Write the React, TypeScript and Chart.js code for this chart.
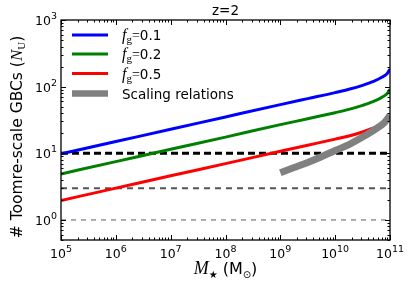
import React, { useEffect, useRef } from "react";
import { Chart, registerables } from "chart.js";

Chart.register(...registerables);

// ---- data ----
const stellarMass = [1e5, 1e6, 1e7, 1e8, 1e9, 3.16e9, 1e10, 1.78e10, 3.16e10, 5.01e10, 7.08e10, 8.91e10, 1e11];
const fg01 = [9.8, 15.0, 22.9, 35.1, 53.7, 66.1, 81.3, 91.2, 104.7, 120, 138, 158, 184];
const fg02 = [4.9, 7.5, 11.5, 17.5, 26.9, 33, 40.7, 45.6, 52.4, 60, 69, 79, 91];
const fg05 = [1.96, 3.0, 4.6, 7.0, 10.7, 13.2, 16.3, 18.2, 20.9, 24, 27.6, 31.7, 36.8];
const scalingMass = [1e9, 1.78e9, 3.16e9, 5.62e9, 1e10, 1.78e10, 3.16e10, 5.62e10, 7.94e10, 1e11];
const scalingValues = [5.1, 6.1, 7.3, 8.9, 11, 13.5, 17.5, 23.5, 29, 37];
const thresholdMass = [1e5, 1e11];
const thresholds = [10, 3, 1];
const gasFractions = ["0.1", "0.2", "0.5"];
const scalingLabel = "Scaling relations";
const xTickExponents = [5, 6, 7, 8, 9, 10, 11];
const yTickExponents = [0, 1, 2, 3];
const titleText = "z=2";

// ---- styles ----
const SANS = '"DejaVu Sans"';
const SERIF = '"Liberation Serif"';
const lineColors = ["#0000ff", "#008000", "#ff0000"];
const scalingColor = "#808080";
const thresholdStyles = [
  { color: "#000000", width: 3, dash: [7, 4] },
  { color: "#555555", width: 2, dash: [6, 5] },
  { color: "#777777", width: 1.2, dash: [5, 5] },
];

type Seg = { t: string; f: string; dy?: number };

function segsWidth(ctx: CanvasRenderingContext2D, segs: Seg[]) {
  let w = 0;
  for (const s of segs) {
    ctx.font = s.f;
    w += ctx.measureText(s.t).width;
  }
  return w;
}

function drawSegs(ctx: CanvasRenderingContext2D, segs: Seg[], x: number, y: number) {
  let cx = x;
  for (const s of segs) {
    ctx.font = s.f;
    ctx.fillText(s.t, cx, y + (s.dy || 0));
    cx += ctx.measureText(s.t).width;
  }
}

function powerSegs(exp: number): Seg[] {
  return [
    { t: "10", f: `12.5px ${SANS}` },
    { t: String(exp), f: `9.5px ${SANS}`, dy: -6 },
  ];
}

const decorPlugin = {
  id: "decor",
  afterDatasetsDraw(chart: any) {
    const ctx: CanvasRenderingContext2D = chart.ctx;
    const { left, right, top, bottom } = chart.chartArea;
    const xs = chart.scales.x;
    const ys = chart.scales.y;
    ctx.save();
    ctx.strokeStyle = "#000";
    ctx.lineWidth = 1;
    const major = 5;
    const minor = 2.5;
    const xMin = xTickExponents[0];
    const xMax = xTickExponents[xTickExponents.length - 1];
    for (let d = xMin; d <= xMax; d++) {
      for (let k = 1; k <= 9; k++) {
        const v = k * Math.pow(10, d);
        if (v < xs.min * 0.999 || v > xs.max * 1.001) continue;
        const px = Math.round(xs.getPixelForValue(v)) + 0.5;
        const len = k === 1 ? major : minor;
        ctx.beginPath();
        ctx.moveTo(px, bottom);
        ctx.lineTo(px, bottom - len);
        ctx.moveTo(px, top);
        ctx.lineTo(px, top + len);
        ctx.stroke();
      }
    }
    for (let d = yTickExponents[0] - 1; d <= yTickExponents[yTickExponents.length - 1]; d++) {
      for (let k = 1; k <= 9; k++) {
        const v = k * Math.pow(10, d);
        if (v < ys.min * 0.999 || v > ys.max * 1.001) continue;
        const py = Math.round(ys.getPixelForValue(v)) + 0.5;
        const len = k === 1 ? major : minor;
        ctx.beginPath();
        ctx.moveTo(left, py);
        ctx.lineTo(left + len, py);
        ctx.moveTo(right, py);
        ctx.lineTo(right - len, py);
        ctx.stroke();
      }
    }
    ctx.lineWidth = 1.3;
    ctx.strokeRect(left, top, right - left, bottom - top);
    ctx.restore();
  },
  afterDraw(chart: any) {
    const ctx: CanvasRenderingContext2D = chart.ctx;
    const { left, right, top, bottom } = chart.chartArea;
    const xs = chart.scales.x;
    const ys = chart.scales.y;
    ctx.save();
    ctx.fillStyle = "#000";
    ctx.textAlign = "left";
    ctx.textBaseline = "alphabetic";

    for (const e of xTickExponents) {
      const segs = powerSegs(e);
      const w = segsWidth(ctx, segs);
      const px = xs.getPixelForValue(Math.pow(10, e));
      drawSegs(ctx, segs, px - w / 2, bottom + 18);
    }
    for (const e of yTickExponents) {
      const segs = powerSegs(e);
      const w = segsWidth(ctx, segs);
      const py = ys.getPixelForValue(Math.pow(10, e));
      drawSegs(ctx, segs, left - 4 - w, py + 5);
    }

    ctx.font = `13.5px ${SANS}`;
    const tw = ctx.measureText(titleText).width;
    ctx.fillText(titleText, (left + right) / 2 - tw / 2, 15);

    const xt: Seg[] = [
      { t: "M", f: `italic 18px ${SERIF}` },
      { t: "\u2605", f: `10px ${SANS}`, dy: 3.5 },
      { t: " (M", f: `16px ${SANS}` },
      { t: "\u2299", f: `10px ${SANS}`, dy: 4 },
      { t: ")", f: `16px ${SANS}` },
    ];
    const xw = segsWidth(ctx, xt);
    drawSegs(ctx, xt, (left + right) / 2 - xw / 2, 274);

    const yt: Seg[] = [
      { t: "# Toomre-scale GBCs (", f: `15.5px ${SANS}` },
      { t: "N", f: `italic 17px ${SERIF}` },
      { t: "U", f: `11px ${SERIF}`, dy: 3 },
      { t: ")", f: `15.5px ${SANS}` },
    ];
    const yw = segsWidth(ctx, yt);
    ctx.save();
    ctx.translate(16, (top + bottom) / 2 + 7);
    ctx.rotate(-Math.PI / 2);
    drawSegs(ctx, yt, -yw / 2, 5.5);
    ctx.restore();

    const lx0 = left + 11;
    const lx1 = left + 47;
    const tx = left + 61;
    const rowY = [35, 54, 73.5, 93.5];
    gasFractions.forEach((g, i) => {
      const y = rowY[i];
      ctx.strokeStyle = lineColors[i];
      ctx.lineWidth = 3;
      ctx.beginPath();
      ctx.moveTo(lx0, y);
      ctx.lineTo(lx1, y);
      ctx.stroke();
      const segs: Seg[] = [
        { t: "f", f: `italic 16px ${SERIF}` },
        { t: "g", f: `11px ${SERIF}`, dy: 3 },
        { t: "=", f: `14px ${SERIF}` },
        { t: g, f: `13.5px ${SANS}` },
      ];
      drawSegs(ctx, segs, tx, y + 5);
    });
    {
      const y = rowY[3];
      ctx.strokeStyle = scalingColor;
      ctx.lineWidth = 6.5;
      ctx.beginPath();
      ctx.moveTo(lx0, y);
      ctx.lineTo(lx1, y);
      ctx.stroke();
      ctx.font = `13.5px ${SANS}`;
      ctx.fillText(scalingLabel, tx, y + 5);
    }
    ctx.restore();
  },
};

export default function App() {
  const ref = useRef<HTMLCanvasElement | null>(null);
  useEffect(() => {
    if (!ref.current) return;
    const toXY = (xsArr: number[], ysArr: number[]) => xsArr.map((x, i) => ({ x, y: ysArr[i] }));
    const mainSeries = [fg01, fg02, fg05];
    const datasets: any[] = [];
    datasets.push({
      label: scalingLabel,
      data: toXY(scalingMass, scalingValues),
      borderColor: scalingColor,
      borderWidth: 7,
      pointRadius: 0,
      cubicInterpolationMode: "monotone",
      borderCapStyle: "butt",
      order: 0,
    });
    mainSeries.forEach((s, i) => {
      datasets.push({
        label: "fg=" + gasFractions[i],
        data: toXY(stellarMass, s),
        borderColor: lineColors[i],
        borderWidth: 3,
        pointRadius: 0,
        cubicInterpolationMode: "monotone",
        order: 3 - i,
      });
    });
    thresholds.forEach((t, i) => {
      datasets.push({
        label: "threshold " + t,
        data: thresholdMass.map((x) => ({ x, y: t })),
        borderColor: thresholdStyles[i].color,
        borderWidth: thresholdStyles[i].width,
        borderDash: thresholdStyles[i].dash,
        pointRadius: 0,
        order: 10 + i,
      });
    });

    const chart = new Chart(ref.current, {
      type: "line",
      data: { datasets },
      options: {
        responsive: false,
        animation: false,
        parsing: true,
        layout: { padding: { top: 20, right: 17, left: 0, bottom: 0 } },
        plugins: { legend: { display: false }, tooltip: { enabled: false }, title: { display: false } },
        scales: {
          x: {
            type: "logarithmic",
            min: 1e5,
            max: 1e11,
            grid: { display: false },
            border: { display: false },
            ticks: { display: false },
            afterFit: (s: any) => {
              s.height = 48;
            },
          },
          y: {
            type: "logarithmic",
            min: 0.5,
            max: 1000,
            grid: { display: false },
            border: { display: false },
            ticks: { display: false },
            afterFit: (s: any) => {
              s.width = 61;
            },
          },
        },
      } as any,
      plugins: [decorPlugin as any],
    });
    return () => chart.destroy();
  }, []);
  return (
    <div style={{ position: "fixed", left: 0, top: 0, width: 407, height: 288, background: "#fff" }}>
      <canvas ref={ref} width={407} height={288} style={{ display: "block" }} />
    </div>
  );
}
